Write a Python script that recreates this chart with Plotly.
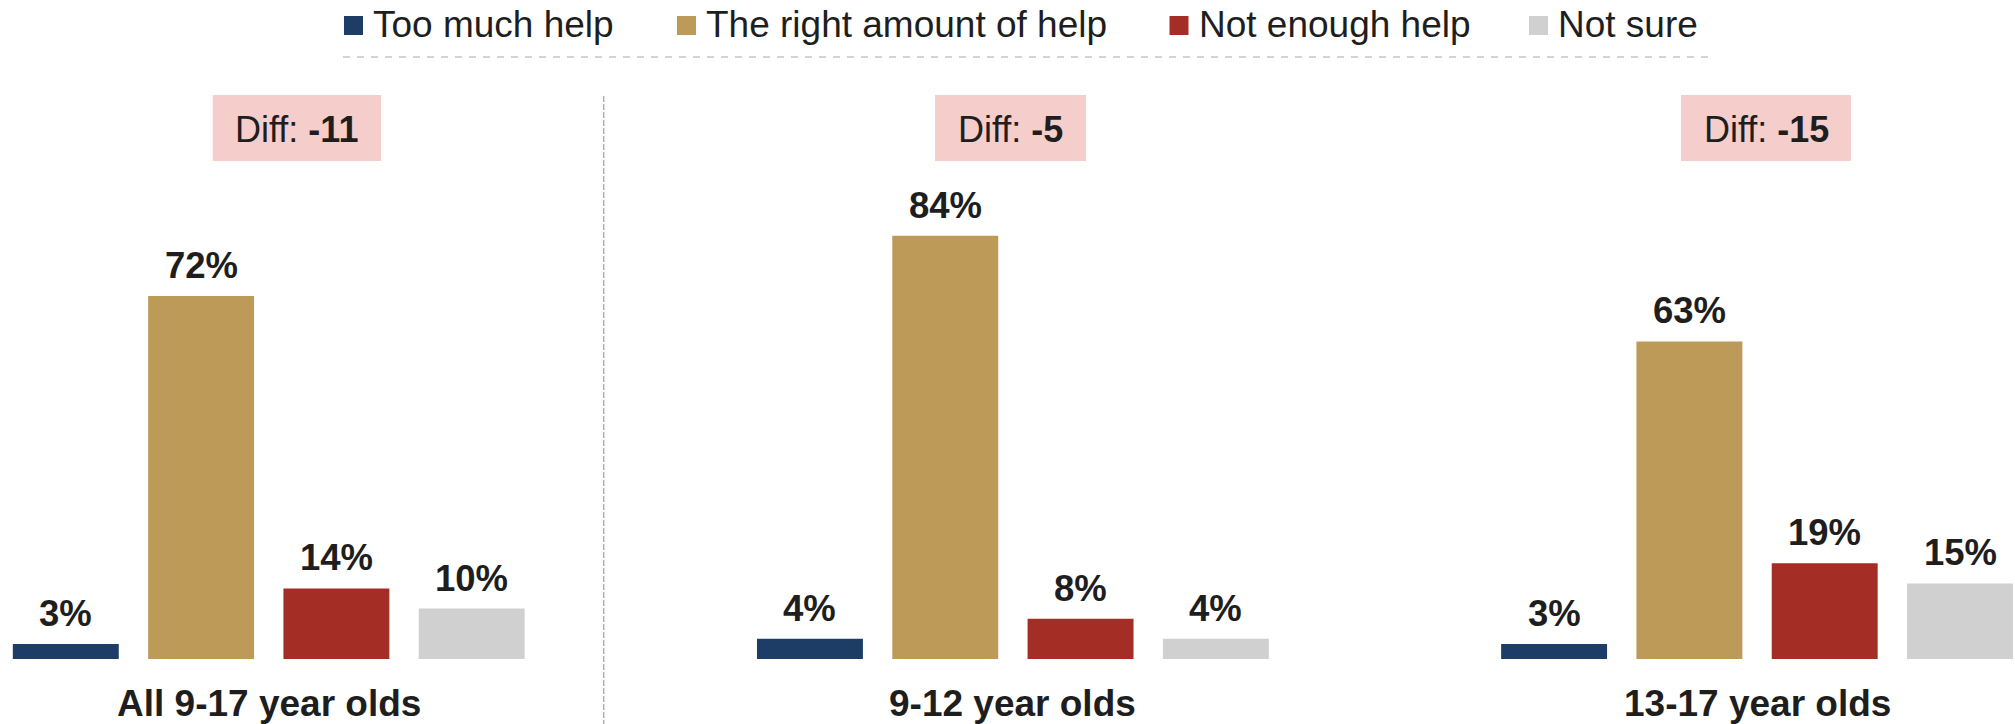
import plotly.graph_objects as go

# ---------------- data ----------------
groups = ["All 9-17 year olds", "9-12 year olds", "13-17 year olds"]
series_names = ["Too much help", "The right amount of help", "Not enough help", "Not sure"]
too_much_help = [3, 4, 3]
right_amount_help = [72, 84, 63]
not_enough_help = [14, 8, 19]
not_sure = [10, 4, 15]
diff_values = [-11, -5, -15]

series_values = [too_much_help, right_amount_help, not_enough_help, not_sure]
colors = ["#1d3c66", "#be9a58", "#a42d25", "#d0d0d0"]

# ---------------- layout constants ----------------
W, H = 2015, 724
FONT = "Liberation Sans, Arial, Helvetica, sans-serif"
TXT = "#1e1e1e"
GROUP_STEP = 5.5
BAR_W = 0.783
PX_PER_PCT = 5.04
BASE_PX = 659
UNIT = 135.3
X0_PX = 65.8


def px(x):
    return x / W


def py(y):
    return 1 - y / H


def xpos(g, s):
    return g * GROUP_STEP + s


fig = go.Figure()

for s, name in enumerate(series_names):
    vals = series_values[s]
    fig.add_trace(go.Bar(
        x=[xpos(g, s) for g in range(len(groups))],
        y=vals,
        name=name,
        width=BAR_W,
        marker=dict(color=colors[s], line=dict(width=0)),
        showlegend=False,
        hoverinfo="skip",
    ))

annotations = []
shapes = []

# value labels
for s in range(len(series_names)):
    for g in range(len(groups)):
        v = series_values[s][g]
        annotations.append(dict(
            x=xpos(g, s), y=v, xref="x", yref="y",
            text=f"<b>{v}%</b>", showarrow=False,
            xanchor="center", yanchor="bottom", yshift=8,
            font=dict(family=FONT, size=36.5, color=TXT),
        ))

# group labels
for g, name in enumerate(groups):
    annotations.append(dict(
        x=xpos(g, 1.5), y=py(703), xref="x", yref="paper",
        text=f"<b>{name}</b>", showarrow=False,
        xanchor="center", yanchor="middle",
        font=dict(family=FONT, size=37, color=TXT),
    ))

# diff boxes
box_px = [(212.7, 381), (935, 1086), (1681, 1851)]
for g, (bx0, bx1) in enumerate(box_px):
    shapes.append(dict(
        type="rect", xref="paper", yref="paper",
        x0=px(bx0), x1=px(bx1), y0=py(161), y1=py(95),
        fillcolor="#f5cdcb", line=dict(width=0), layer="below",
    ))
    annotations.append(dict(
        x=px((bx0 + bx1) / 2), y=py(129.5), xref="paper", yref="paper",
        text=f"Diff: <b>{diff_values[g]}</b>", showarrow=False,
        xanchor="center", yanchor="middle",
        font=dict(family=FONT, size=36, color=TXT),
    ))

# divider between first and second group
shapes.append(dict(
    type="line", xref="paper", yref="paper",
    x0=px(603.7), x1=px(603.7), y0=py(96), y1=py(724),
    line=dict(color="#b0b0b0", width=1.5, dash="6px,2px"),
))

# custom legend
legend_sq = [344, 677, 1169.5, 1529]
for s, name in enumerate(series_names):
    x0 = legend_sq[s]
    shapes.append(dict(
        type="rect", xref="paper", yref="paper",
        x0=px(x0), x1=px(x0 + 19), y0=py(35), y1=py(16),
        fillcolor=colors[s], line=dict(width=0),
    ))
    annotations.append(dict(
        x=px(x0 + 27), y=py(25), xref="paper", yref="paper",
        text=name, showarrow=False,
        xanchor="left", yanchor="middle",
        font=dict(family=FONT, size=37, color=TXT),
    ))
shapes.append(dict(
    type="line", xref="paper", yref="paper",
    x0=px(343), x1=px(1708), y0=py(57), y1=py(57),
    line=dict(color="#d3d3d3", width=2, dash="7px,7px"),
))

fig.update_layout(
    width=W, height=H,
    margin=dict(l=0, r=0, t=0, b=0),
    paper_bgcolor="white", plot_bgcolor="white",
    barmode="overlay",
    showlegend=False,
    xaxis=dict(range=[-X0_PX / UNIT, (W - X0_PX) / UNIT], visible=False, fixedrange=True),
    yaxis=dict(range=[-(H - BASE_PX) / PX_PER_PCT, BASE_PX / PX_PER_PCT], visible=False, fixedrange=True),
    annotations=annotations,
    shapes=shapes,
    font=dict(family=FONT, color=TXT),
)

fig.write_html(
    "out.html",
    config={"displayModeBar": False},
    post_script="document.body.style.margin='0';document.body.style.overflow='hidden';",
)
